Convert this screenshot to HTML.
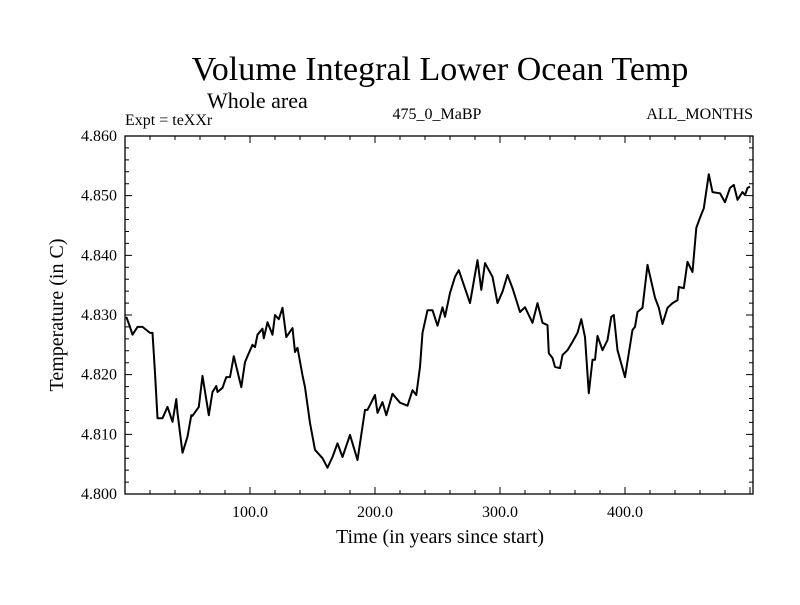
<!DOCTYPE html>
<html><head><meta charset="utf-8"><style>
body{margin:0;background:#fff}
svg text{font-family:"Liberation Serif",serif;fill:#000}
</style></head><body>
<svg id="chart" width="800" height="600">
<text x="440" y="80" font-size="34" text-anchor="middle">Volume Integral Lower Ocean Temp</text>
<text x="207" y="108" font-size="22">Whole area</text>
<text x="125" y="125" font-size="16">Expt = teXXr</text>
<text x="437" y="119" font-size="16" text-anchor="middle">475_0_MaBP</text>
<text x="753" y="119" font-size="16" text-anchor="end">ALL_MONTHS</text>
<text x="440" y="543" font-size="20" text-anchor="middle">Time (in years since start)</text>
<text transform="translate(63,315) rotate(-90)" font-size="20" text-anchor="middle">Temperature (in C)</text>
<g id="axes"></g>
<g id="plot"></g>
</svg>
<script>
const years=[1,4,6,10,14,20,22,24,26,30,34,38,41,42,46,50,53,54,59,62,67,70,73,74,78,81,84,87,93,96,98,102,104,106,110,111,114,118,120,123,126,129,134,136,138,142,144,148,152,158,162,166,170,174,180,182,186,192,194,200,202,206,209,214,220,226,230,233,236,238,242,246,250,254,256,260,264,267,276,282,285,288,294,298,302,306,310,316,320,326,330,334,338,339,342,344,348,350,354,358,362,365,368,371,374,376,378,382,386,389,391,394,400,406,408,410,414,418,424,427,430,434,438,442,443,447,450,454,457,460,463,467,470,476,480,484,487,490,494,496,498,500];
const temps=[4.8297,4.8280,4.8267,4.8280,4.8280,4.8270,4.8270,4.8203,4.8127,4.8127,4.8146,4.8121,4.8159,4.8136,4.8069,4.8096,4.8132,4.8131,4.8146,4.8198,4.8132,4.8171,4.8181,4.8171,4.8178,4.8196,4.8196,4.8231,4.8179,4.8221,4.8231,4.8250,4.8246,4.8267,4.8277,4.8261,4.8288,4.8267,4.8300,4.8293,4.8312,4.8263,4.8278,4.8238,4.8245,4.8199,4.8179,4.8119,4.8074,4.8060,4.8044,4.8062,4.8085,4.8062,4.8099,4.8085,4.8057,4.8141,4.8141,4.8166,4.8136,4.8154,4.8132,4.8168,4.8153,4.8148,4.8174,4.8166,4.8213,4.8270,4.8308,4.8308,4.8282,4.8313,4.8297,4.8337,4.8364,4.8375,4.8320,4.8392,4.8342,4.8387,4.8364,4.8320,4.8339,4.8367,4.8345,4.8305,4.8313,4.8287,4.8320,4.8287,4.8283,4.8236,4.8228,4.8213,4.8211,4.8233,4.8241,4.8255,4.8270,4.8293,4.8263,4.8169,4.8225,4.8225,4.8265,4.8241,4.8258,4.8297,4.8300,4.8241,4.8196,4.8275,4.8280,4.8305,4.8312,4.8384,4.8329,4.8312,4.8285,4.8312,4.8320,4.8325,4.8347,4.8345,4.8389,4.8372,4.8446,4.8463,4.8479,4.8536,4.8506,4.8504,4.8489,4.8513,4.8518,4.8493,4.8506,4.8501,4.8513,4.8515];
const xTicks=[100,200,300,400];
const xTickLabels=["100.0","200.0","300.0","400.0"];
const yTicks=[4.80,4.81,4.82,4.83,4.84,4.85,4.86];
const yTickLabels=["4.800","4.810","4.820","4.830","4.840","4.850","4.860"];
const X0=125,X1=753,Y0=494,Y1=136,xMin=0,xMax=502.4,yMin=4.80,yMax=4.86;
const sx=v=>X0+(v-xMin)/(xMax-xMin)*(X1-X0);
const sy=v=>Y0-(v-yMin)/(yMax-yMin)*(Y0-Y1);
const NS="http://www.w3.org/2000/svg";
const axes=document.getElementById('axes'),plot=document.getElementById('plot');
function mk(tag,attrs,parent){const e=document.createElementNS(NS,tag);for(const k in attrs)e.setAttribute(k,attrs[k]);parent.appendChild(e);return e;}
const frame=mk('rect',{x:X0,y:Y1,width:X1-X0,height:Y0-Y1,fill:'none',stroke:'#000','stroke-width':1.3},axes);


let tp='';
for(let v=20;v<xMax;v+=20){const x=sx(v);const L=(v%100===0)?7:4;tp+=`M${x},${Y0}v${-L}M${x},${Y1}v${L}`;}
for(let i=0;i<=30;i++){const v=yMin+i*0.002;const y=sy(v);const L=(i%5===0)?7:4;tp+=`M${X0},${y}h${L}M${X1},${y}h${-L}`;}
const ticks=mk('path',{d:tp,stroke:'#000','stroke-width':1,fill:'none'},axes);


xTicks.forEach((v,i)=>{const t=mk('text',{x:sx(v),y:Y0+23,'font-size':16,'text-anchor':'middle'},axes);t.textContent=xTickLabels[i];

});
yTicks.forEach((v,i)=>{const t=mk('text',{x:X0-8,y:sy(v)+5,'font-size':16,'text-anchor':'end'},axes);t.textContent=yTickLabels[i];

});
const d=years.map((y,i)=>(i?'L':'M')+sx(y).toFixed(1)+','+sy(temps[i]).toFixed(1)).join('');
const line=mk('path',{d:d,stroke:'#000','stroke-width':2,fill:'none','stroke-linejoin':'round'},plot);


</script>
</body></html>
